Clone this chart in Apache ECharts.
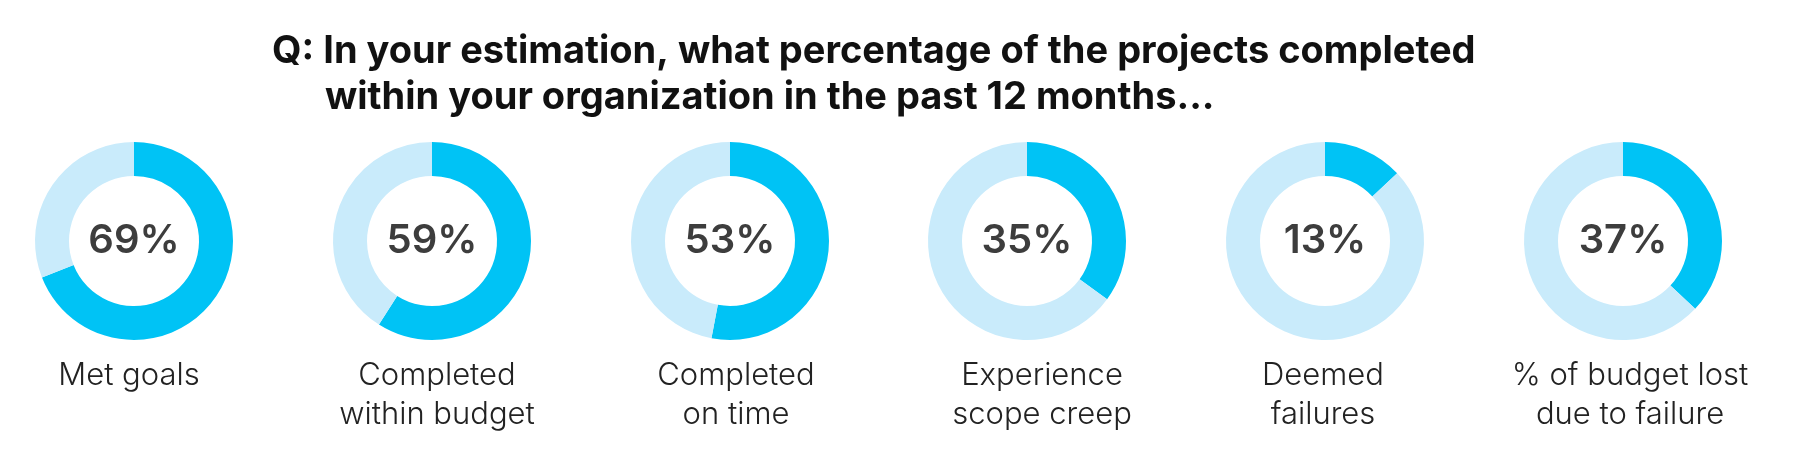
<!DOCTYPE html>
<html><head><meta charset="utf-8">
<style>html,body{margin:0;padding:0;background:#fff}#c{width:1800px;height:456px}</style>
<script src="https://cdn.jsdelivr.net/npm/echarts@6/dist/echarts.min.js"></script>
</head><body><div id="c"></div>
<script>
const categories = [
  "Met goals",
  "Completed\nwithin budget",
  "Completed\non time",
  "Experience\nscope creep",
  "Deemed\nfailures",
  "% of budget lost\ndue to failure"
];
const values = [69, 59, 53, 35, 13, 37];
const titleLines = [
  "Q: In your estimation, what percentage of the projects completed",
  "within your organization in the past 12 months..."
];

const chart = echarts.init(document.getElementById('c'));
const centersX = [134, 432, 730, 1027, 1325, 1623];
const labelX = [124, 432, 731, 1037, 1318, 1625];
const cy = 241;
const series = values.map((v, i) => ({
  type: 'pie',
  center: [centersX[i], cy],
  radius: [65, 99],
  startAngle: 90,
  clockwise: true,
  silent: true,
  animation: false,
  label: { show: false },
  labelLine: { show: false },
  data: [
    { value: v, itemStyle: { color: '#00C3F5' },
      label: { show: true, position: 'center', formatter: v + '%',
        fontFamily: 'Inter', fontWeight: 600, fontSize: 40, color: '#3d3d3d' } },
    { value: 100 - v, itemStyle: { color: '#C9EBFB' } }
  ]
}));
const titles = [
  { text: titleLines[0], left: 267, top: 28,
    textStyle: { fontFamily: 'Inter', fontWeight: 700, fontSize: 38, color: '#111' } },
  { text: titleLines[1], left: 320, top: 74,
    textStyle: { fontFamily: 'Inter', fontWeight: 700, fontSize: 38, color: '#111' } }
];
categories.forEach((c, i) => {
  titles.push({
    text: c, left: labelX[i], top: 351, textAlign: 'center',
    textStyle: { fontFamily: 'Inter', fontWeight: 300, fontSize: 31, color: '#222', lineHeight: 39 }
  });
});
chart.setOption({ animation: false, title: titles, series });
</script></body></html>
